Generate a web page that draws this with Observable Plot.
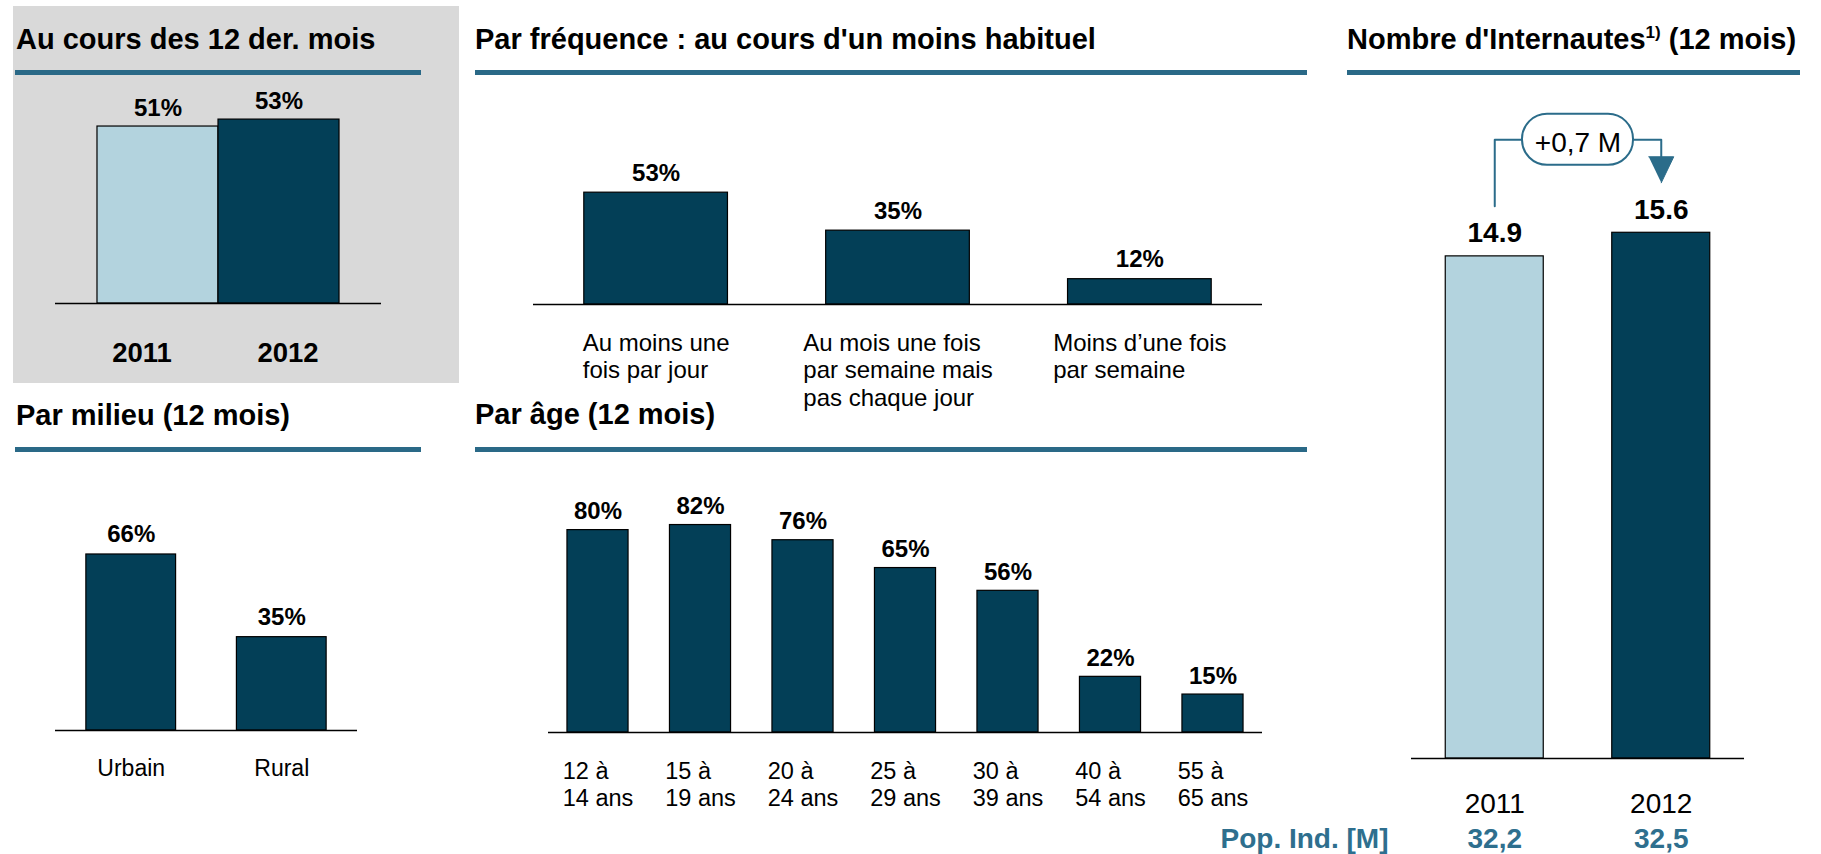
<!DOCTYPE html>
<html><head><meta charset="utf-8">
<script src="https://cdn.jsdelivr.net/npm/d3@7"></script>
<script src="https://cdn.jsdelivr.net/npm/@observablehq/plot@0.6"></script>
<style>
body{margin:0;background:#fff;font-family:"Liberation Sans",Arial,sans-serif;}
#wrap{position:relative;width:1821px;height:854px;overflow:hidden;}
.bg{position:absolute;background:#D9D9D9;}
.title{position:absolute;font-weight:bold;font-size:29px;line-height:29px;color:#000;white-space:nowrap;}
.rule{position:absolute;height:5px;background:#2A6987;}
</style></head><body><div id="wrap"></div>
<script>
// ---------- DATA ----------
const usageYears = ["2011", "2012"];
const usageValues = [51, 53];

const freqCategories = ["Au moins une\nfois par jour", "Au mois une fois\npar semaine mais\npas chaque jour", "Moins d\u2019une fois\npar semaine"];
const freqValues = [53, 35, 12];

const milieuCategories = ["Urbain", "Rural"];
const milieuValues = [66, 35];

const ageCategories = ["12 à\n14 ans", "15 à\n19 ans", "20 à\n24 ans", "25 à\n29 ans", "30 à\n39 ans", "40 à\n54 ans", "55 à\n65 ans"];
const ageValues = [80, 82, 76, 65, 56, 22, 15];

const netYears = [2011, 2012];
const netValues = [14.9, 15.6];
const popValues = ["32,2", "32,5"];
const popLabel = "Pop. Ind. [M]";
const deltaLabel = "+0,7 M";

const titles = {
  usage: "Au cours des 12 der. mois",
  freq: "Par fréquence : au cours d'un moins habituel",
  net: "Nombre d'Internautes<span style=\"font-size:17px;position:relative;top:-11px\">1)</span> (12 mois)",
  milieu: "Par milieu (12 mois)",
  age: "Par âge (12 mois)"
};

// ---------- STYLE ----------
const FONT = "'Liberation Sans', Arial, sans-serif";
const DARK = "#033F57", LIGHT = "#B3D3DE", ANNO = "#2B6C8A", POPC = "#2E6F8E";
const wrap = document.getElementById("wrap");

function place(el, left, top) {
  el.style.position = "absolute";
  el.style.left = left + "px";
  el.style.top = top + "px";
  wrap.appendChild(el);
}
function addDiv(cls, left, top, w, h, html) {
  const d = document.createElement("div");
  d.className = cls;
  d.style.left = left + "px"; d.style.top = top + "px";
  if (w != null) d.style.width = w + "px";
  if (h != null) d.style.height = h + "px";
  if (html) d.innerHTML = html;
  wrap.appendChild(d);
  return d;
}
function addTitle(html, x, baseline, r0, r1, ry) {
  addDiv("title", x, baseline - 0.8465 * 29, null, null, html);
  addDiv("rule", r0, ry, r1 - r0, 5);
}
const ctx = document.createElement("canvas").getContext("2d");
function textWidth(s, size, weight) {
  ctx.font = `${weight || "normal"} ${size}px "Liberation Sans"`;
  return ctx.measureText(s).width;
}
function blockLabels(cats, fs, lh, gap) {
  const dy = gap - 0.71 * lh * fs;
  return cats.map(c => {
    const w = d3.max(c.split("\n"), l => textWidth(l, fs));
    return Plot.text([c], {x: d => d, text: d => d, frameAnchor: "bottom", textAnchor: "start", lineAnchor: "top",
      dx: -w / 2, dy, fontSize: fs, lineHeight: lh, fill: "#000"});
  });
}
const svgStyle = {background: "transparent", fontFamily: FONT, overflow: "visible"};

// ---------- BACKGROUND + TITLES ----------
addDiv("bg", 13, 6, 446, 377);
addTitle(titles.usage, 16, 50, 15, 421, 70);
addTitle(titles.freq, 475, 50, 475, 1307, 70);
addTitle(titles.net, 1347, 50, 1347, 1800, 70);
addTitle(titles.milieu, 16, 426, 15, 421, 447);
addTitle(titles.age, 475, 425, 475, 1307, 447);

// ---------- PANEL 1 : 12 derniers mois ----------
{
  const data = usageYears.map((c, i) => ({cat: c, v: usageValues[i]}));
  const ml = 20, mr = 20, fx0 = 55, fx1 = 381, T = 80, base = 303, k = 3.47, mb = 80;
  const labelShift = [-16, 9]; // year labels sit slightly off the bar centres
  const p = Plot.plot({
    width: fx1 - fx0 + ml + mr, height: base - T + mb,
    marginLeft: ml, marginRight: mr, marginTop: 0, marginBottom: mb,
    style: svgStyle,
    x: {type: "band", domain: usageYears, paddingInner: 0, paddingOuter: 0.347, round: false, axis: null},
    y: {domain: [0, (base - T) / k], axis: null},
    color: {domain: usageYears, range: [LIGHT, DARK]},
    marks: [
      Plot.barY(data, {x: "cat", y: "v", fill: "cat", stroke: "#000", strokeWidth: 1.2, inset: 0}),
      Plot.ruleY([0], {stroke: "#000", strokeWidth: 1.5}),
      Plot.text(data, {x: "cat", y: "v", text: d => d.v + "%", lineAnchor: "bottom", dy: -11, fontSize: 24, fontWeight: "bold", fill: "#000"}),
      ...data.map((d, i) => Plot.text([d], {x: "cat", text: "cat", frameAnchor: "bottom", lineAnchor: "bottom", dx: labelShift[i], dy: 58, fontSize: 27.5, fontWeight: "bold", fill: "#000"}))
    ]
  });
  place(p, fx0 - ml, T);
}

// ---------- PANEL 2 : fréquence ----------
{
  const data = freqCategories.map((c, i) => ({cat: c, v: freqValues[i]}));
  const ml = 20, mr = 20, fx0 = 533, fx1 = 1262, T = 140, base = 304, k = 2.11, mb = 120;
  const p = Plot.plot({
    width: fx1 - fx0 + ml + mr, height: base - T + mb,
    marginLeft: ml, marginRight: mr, marginTop: 0, marginBottom: mb,
    style: svgStyle,
    x: {type: "band", domain: freqCategories, paddingInner: 0.406, paddingOuter: 0.21, round: false, axis: null},
    y: {domain: [0, (base - T) / k], axis: null},
    marks: [
      Plot.barY(data, {x: "cat", y: "v", fill: DARK, stroke: "#000", strokeWidth: 1.2, inset: 0}),
      Plot.ruleY([0], {stroke: "#000", strokeWidth: 1.5}),
      Plot.text(data, {x: "cat", y: "v", text: d => d.v + "%", lineAnchor: "bottom", dy: -12, fontSize: 24, fontWeight: "bold", fill: "#000"}),
      ...blockLabels(freqCategories, 24, 1.146, 46)
    ]
  });
  place(p, fx0 - ml, T);
}

// ---------- PANEL 4 : milieu ----------
{
  const data = milieuCategories.map((c, i) => ({cat: c, v: milieuValues[i]}));
  const ml = 20, mr = 20, fx0 = 55, fx1 = 357, T = 470, base = 730, k = 2.667, mb = 60;
  const p = Plot.plot({
    width: fx1 - fx0 + ml + mr, height: base - T + mb,
    marginLeft: ml, marginRight: mr, marginTop: 0, marginBottom: mb,
    style: svgStyle,
    x: {type: "band", domain: milieuCategories, paddingInner: 0.404, paddingOuter: 0.205, round: false, axis: null},
    y: {domain: [0, (base - T) / k], axis: null},
    marks: [
      Plot.barY(data, {x: "cat", y: "v", fill: DARK, stroke: "#000", strokeWidth: 1.2, inset: 0}),
      Plot.ruleY([0], {stroke: "#000", strokeWidth: 1.5}),
      Plot.text(data, {x: "cat", y: "v", text: d => d.v + "%", lineAnchor: "bottom", dy: -12, fontSize: 24, fontWeight: "bold", fill: "#000"}),
      Plot.text(data, {x: "cat", text: "cat", frameAnchor: "bottom", lineAnchor: "bottom", dy: 45, fontSize: 23, fill: "#000"})
    ]
  });
  place(p, fx0 - ml, T);
}

// ---------- PANEL 5 : âge ----------
{
  const data = ageCategories.map((c, i) => ({cat: c, v: ageValues[i]}));
  const ml = 20, mr = 20, fx0 = 548, fx1 = 1262, T = 470, base = 732, k = 2.53, mb = 90;
  const p = Plot.plot({
    width: fx1 - fx0 + ml + mr, height: base - T + mb,
    marginLeft: ml, marginRight: mr, marginTop: 0, marginBottom: mb,
    style: svgStyle,
    x: {type: "band", domain: ageCategories, paddingInner: 0.404, paddingOuter: 0.185, round: false, axis: null},
    y: {domain: [0, (base - T) / k], axis: null},
    marks: [
      Plot.barY(data, {x: "cat", y: "v", fill: DARK, stroke: "#000", strokeWidth: 1.2, inset: 0}),
      Plot.ruleY([0], {stroke: "#000", strokeWidth: 1.5}),
      Plot.text(data, {x: "cat", y: "v", text: d => d.v + "%", lineAnchor: "bottom", dy: -11, fontSize: 24, fontWeight: "bold", fill: "#000"}),
      ...blockLabels(ageCategories, 23.5, 1.15, 46)
    ]
  });
  place(p, fx0 - ml, T);
}

// ---------- PANEL 3 : nombre d'internautes ----------
{
  const data = netYears.map((y, i) => ({year: y, key: String(y), v: netValues[i], pop: popValues[i]}));
  const ml = 220, mr = 40, fx0 = 1411, fx1 = 1744, T = 100, base = 758, k = 33.7, mb = 96;
  const pxPerYear = (fx1 - fx0) / 2;
  const half = 49 / pxPerYear;            // half bar width in year units
  const [y0, y1] = netYears, [v0, v1] = netValues;
  const mid = (y0 + y1) / 2;
  const pillHalf = 55.5 / pxPerYear, pillHalfH = 25.5 / k;
  const level = d3.max(netValues) + 93 / k;
  const leftPath = [{x: y0, y: v0 + 50 / k}, {x: y0, y: level}, {x: mid - pillHalf, y: level}];
  const rightPath = [{x: mid + pillHalf, y: level}, {x: y1, y: level}, {x: y1, y: v1 + 76 / k}];
  const triW = 12.5 / pxPerYear;
  const tri = [{x: y1 - triW, y: v1 + 76 / k}, {x: y1 + triW, y: v1 + 76 / k}, {x: y1, y: v1 + 50 / k}];
  const pill = [{x1: mid - pillHalf, x2: mid + pillHalf, y1: level - pillHalfH, y2: level + pillHalfH}];
  const p = Plot.plot({
    width: fx1 - fx0 + ml + mr, height: base - T + mb,
    marginLeft: ml, marginRight: mr, marginTop: 0, marginBottom: mb,
    style: svgStyle,
    x: {domain: [y0 - 0.5, y1 + 0.5], axis: null},
    y: {domain: [0, (base - T) / k], axis: null},
    color: {domain: netYears.map(String), range: [LIGHT, DARK]},
    marks: [
      Plot.rectY(data, {x1: d => d.year - half, x2: d => d.year + half, y: "v", fill: "key", stroke: "#000", strokeWidth: 1.2}),
      Plot.ruleY([0], {stroke: "#000", strokeWidth: 1.5}),
      Plot.text(data, {x: "year", y: "v", text: d => d.v.toFixed(1), lineAnchor: "bottom", dy: -14, fontSize: 28, fontWeight: "bold", fill: "#000"}),
      Plot.line(leftPath, {x: "x", y: "y", stroke: ANNO, strokeWidth: 2}),
      Plot.line(rightPath, {x: "x", y: "y", stroke: ANNO, strokeWidth: 2}),
      Plot.line(tri, {x: "x", y: "y", fill: ANNO, stroke: ANNO, strokeWidth: 1}),
      Plot.rect(pill, {x1: "x1", x2: "x2", y1: "y1", y2: "y2", rx: 25, fill: "#fff", stroke: ANNO, strokeWidth: 2}),
      Plot.text([deltaLabel], {x: mid, y: level, text: d => d, lineAnchor: "middle", dy: 3, fontSize: 28, fill: "#000"}),
      Plot.text(data, {x: "year", text: d => String(d.year), frameAnchor: "bottom", lineAnchor: "bottom", dy: 54, fontSize: 28, fill: "#000"}),
      Plot.text(data, {x: "year", text: "pop", frameAnchor: "bottom", lineAnchor: "bottom", dy: 89, fontSize: 28, fontWeight: "bold", fill: POPC}),
      Plot.text([popLabel], {frameAnchor: "bottom-left", text: d => d, textAnchor: "end", lineAnchor: "bottom", dx: -23, dy: 89, fontSize: 28, fontWeight: "bold", fill: POPC})
    ]
  });
  place(p, fx0 - ml, T);
}
</script>
</body></html>
